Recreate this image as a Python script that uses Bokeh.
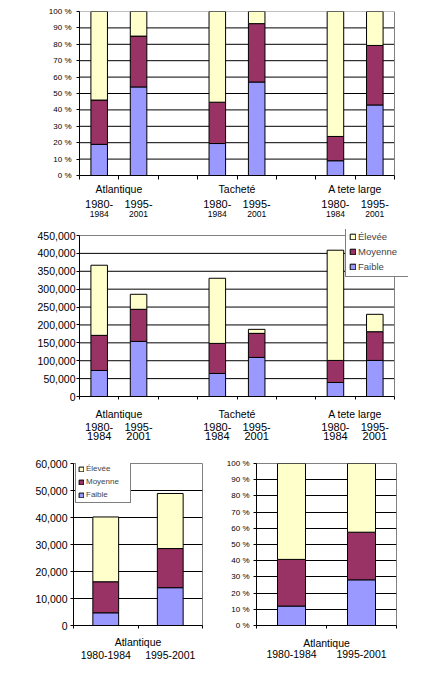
from bokeh.plotting import figure
from bokeh.models import (Range1d, FixedTicker, LinearAxis, Legend, LegendItem,
                          ColumnDataSource, NumeralTickFormatter)
from bokeh.layouts import column, row
from bokeh.embed import file_html
from bokeh.resources import INLINE

FONT = "Liberation Sans"

# ---------------- data ----------------
series = ["Faible", "Moyenne", "Élevée"]
colors = ["#9999FF", "#993366", "#FFFFCC"]

species = ["Atlantique", "Tacheté", "A tete large"]
periods_top = ["1980-", "1995-"]
periods_bot = ["1984", "2001"]
periods_full = ["1980-1984", "1995-2001"]

# chart 1: share (%) by species and period
pct_faible = [19, 54, 19.5, 57, 9, 43]
pct_moyenne = [27, 31, 25.2, 35.6, 14.8, 36.3]
pct_elevee = [54, 15, 55.3, 7.4, 76.2, 20.7]

# chart 2: counts by species and period
cnt_faible = [72800, 154000, 64400, 109200, 39200, 100800]
cnt_moyenne = [98100, 89700, 84000, 67300, 61600, 80300]
cnt_elevee = [196000, 42000, 182100, 11200, 308100, 48600]

# chart 3: Atlantique counts
atl_faible = [4700, 14000]
atl_moyenne = [11500, 14500]
atl_elevee = [24000, 20400]

# chart 4: Atlantique share (%)
atlp_faible = [12, 28.2]
atlp_moyenne = [28.8, 29.4]
atlp_elevee = [59.2, 42.4]

pct_ticks = [0, 10, 20, 30, 40, 50, 60, 70, 80, 90, 100]
pct_labels = [f"{t} %" for t in pct_ticks]
cnt_ticks = [0, 50000, 100000, 150000, 200000, 250000, 300000, 350000, 400000, 450000]
atl_ticks = [0, 10000, 20000, 30000, 40000, 50000, 60000]


def base_fig(width, height, left, right, top, bottom, xmax, ymax):
    p = figure(width=width, height=height, output_backend="svg", toolbar_location=None,
               x_range=Range1d(0, xmax), y_range=Range1d(0, ymax),
               min_border_left=left, min_border_right=right,
               min_border_top=top, min_border_bottom=bottom)
    p.background_fill_color = "white"
    p.border_fill_color = "white"
    p.outline_line_color = "#808080"
    p.outline_line_width = 1
    p.xgrid.visible = False
    p.ygrid.grid_line_color = "black"
    p.ygrid.grid_line_width = 1
    return p


def manual_box(p, x_end, ticks):
    """Plot box drawn by hand so the frame itself can be a little larger."""
    p.outline_line_color = None
    p.ygrid.visible = False
    n = len(ticks) - 2
    p.segment(x0=[0] * n, x1=[x_end] * n, y0=ticks[1:-1], y1=ticks[1:-1],
              line_color="black", line_width=1)
    p.segment(x0=[0, x_end], x1=[x_end, x_end], y0=[ticks[-1], 0], y1=[ticks[-1], ticks[-1]],
              line_color="#808080", line_width=1)
    p.yaxis[0].bounds = (0, ticks[-1])
    p.xaxis[0].bounds = (0, x_end)


def style_y(p, ticks, size, standoff, labels=None, fmt=None):
    ax = p.yaxis[0]
    ax.ticker = FixedTicker(ticks=ticks)
    if labels is not None:
        ax.major_label_overrides = {t: l for t, l in zip(ticks, labels)}
    if fmt is not None:
        ax.formatter = NumeralTickFormatter(format=fmt)
    ax.major_label_text_font = FONT
    ax.major_label_text_font_size = f"{size}px"
    ax.major_label_text_color = "black"
    ax.major_label_standoff = standoff
    ax.major_tick_out = 3
    ax.major_tick_in = 0
    ax.minor_tick_line_color = None
    ax.axis_line_color = "black"
    ax.major_tick_line_color = "black"


def label_axis(p, ticks, labels, size, standoff, tick_out=0, first=False):
    if first:
        ax = p.xaxis[0]
    else:
        ax = LinearAxis()
        p.add_layout(ax, "below")
    ax.ticker = FixedTicker(ticks=ticks)
    ax.major_label_overrides = {t: l for t, l in zip(ticks, labels)}
    ax.major_label_text_font = FONT
    ax.major_label_text_font_size = f"{size}px"
    ax.major_label_text_color = "black"
    ax.major_label_standoff = standoff
    ax.minor_tick_line_color = None
    if first:
        ax.axis_line_color = "black"
        ax.major_tick_line_color = "black"
        ax.major_tick_out = tick_out
        ax.major_tick_in = 0
    else:
        ax.axis_line_color = None
        ax.major_tick_line_color = None
        ax.major_tick_out = 0
        ax.major_tick_in = 0
    return ax


def add_bars(p, xs, f, m, e, width):
    src = ColumnDataSource(dict(x=xs, Faible=f, Moyenne=m, Elevee=e))
    return p.vbar_stack(["Faible", "Moyenne", "Elevee"], x="x", width=width,
                        color=colors, line_color="black", line_width=1, source=src)


def add_legend(p, rends, size, glyph, label_h, label_w, spacing, padding, loc):
    items = [LegendItem(label=series[i], renderers=[rends[i]]) for i in (2, 1, 0)]
    lg = Legend(items=items, location=loc, margin=0, padding=padding, spacing=spacing,
                glyph_width=glyph, glyph_height=glyph, label_height=label_h,
                label_width=label_w, label_standoff=2,
                label_text_font=FONT, label_text_font_size=f"{size}px",
                border_line_color="black", border_line_width=1,
                background_fill_color="white", background_fill_alpha=1)
    p.add_layout(lg)
    return lg


# positions: three species, two periods, a blank slot between species
NSLOT = 8
x6 = [3 * i + j + 0.5 for i in range(len(species)) for j in range(len(periods_top))]
bound8 = list(range(0, NSLOT + 1))
group_pos = [3 * i + 1 for i in range(len(species))]
bound_labels = [species[group_pos.index(b)] if b in group_pos else "" for b in bound8]
years_top6 = [periods_top[j] for i in range(len(species)) for j in range(2)]
years_bot6 = [periods_bot[j] for i in range(len(species)) for j in range(2)]

# frames of the two wide charts reach x=408 px (plot box ends at 394/395)
XWIDE = NSLOT * (408 - 79) / 315

# ---------- chart 1 ----------
Y1MAX = 100 * (175 - 11) / 164
p1 = base_fig(438, 225, 79, 30, 11, 50, XWIDE, Y1MAX)
style_y(p1, pct_ticks, 8, 5, labels=pct_labels)
manual_box(p1, NSLOT, pct_ticks)
add_bars(p1, x6, pct_faible, pct_moyenne, pct_elevee, 0.42)
label_axis(p1, bound8, bound_labels, 10.5, 3, tick_out=4, first=True)
label_axis(p1, x6, years_top6, 11, 2)
label_axis(p1, x6, years_bot6, 8.5, 0)

# ---------- chart 2 ----------
Y2MAX = 450000 * (396 - 229) / 161
p2 = base_fig(438, 225, 79, 30, 4, 54, XWIDE, Y2MAX)
style_y(p2, cnt_ticks, 10.5, 1, fmt="0,0")
manual_box(p2, NSLOT, cnt_ticks)
r2 = add_bars(p2, x6, cnt_faible, cnt_moyenne, cnt_elevee, 0.42)
label_axis(p2, bound8, bound_labels, 10.5, 8, tick_out=3, first=True)
label_axis(p2, x6, years_top6, 11, 0)
label_axis(p2, x6, years_bot6, 11, -2)
add_legend(p2, r2, 9.5, 7, 13, 47, 2, 3, (266, 119))

# ---------- chart 3 ----------
x2 = [j + 0.5 for j in range(len(periods_full))]
b2 = [0, 1, 2]
b2_labels = ["", species[0], ""]
p3 = base_fig(223, 220, 73, 21, 13, 45, 2, 60000)
style_y(p3, atl_ticks, 10.5, 3, fmt="0,0")
r3 = add_bars(p3, x2, atl_faible, atl_moyenne, atl_elevee, 0.4)
label_axis(p3, b2, b2_labels, 10.5, 7, tick_out=3, first=True)
label_axis(p3, x2, periods_full, 10.5, 0)
add_legend(p3, r3, 8, 6, 11, 42, 2, 2, (2, 122))

# ---------- chart 4 ----------
p4 = base_fig(215, 220, 32, 42, 12, 42, 2, 100)
style_y(p4, pct_ticks, 8, 4, labels=pct_labels)
add_bars(p4, x2, atlp_faible, atlp_moyenne, atlp_elevee, 0.4)
label_axis(p4, b2, b2_labels, 10.5, 8, tick_out=3, first=True)
label_axis(p4, x2, periods_full, 10.5, -2)

layout = column(p1, p2, row(p3, p4, spacing=0), spacing=0)
open("out.html", "w").write(file_html(layout, INLINE))
